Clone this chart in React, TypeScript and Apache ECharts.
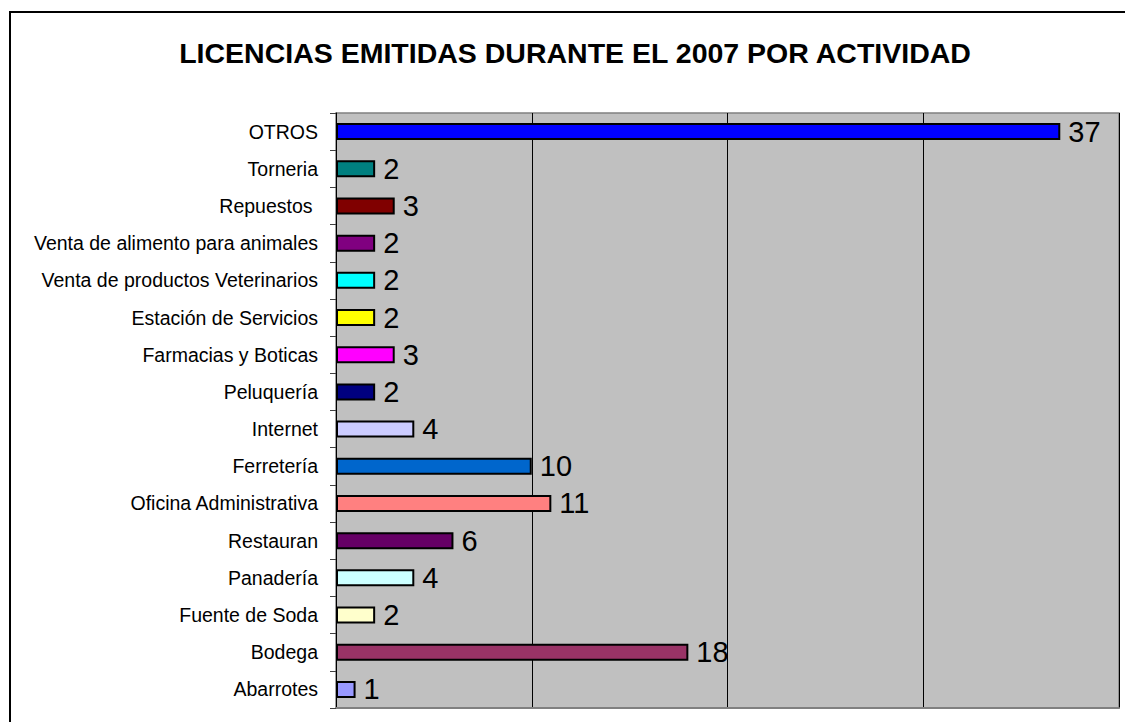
import React, { useEffect, useRef } from "react";
import * as echarts from "echarts";

const TITLE = "LICENCIAS EMITIDAS DURANTE EL 2007 POR ACTIVIDAD";

const categories = [
  "OTROS",
  "Torneria",
  "Repuestos ",
  "Venta de alimento para animales",
  "Venta de productos Veterinarios",
  "Estación de Servicios",
  "Farmacias y Boticas",
  "Peluquería",
  "Internet",
  "Ferretería",
  "Oficina Administrativa",
  "Restauran",
  "Panadería",
  "Fuente de Soda",
  "Bodega",
  "Abarrotes",
];

const values = [37, 2, 3, 2, 2, 2, 3, 2, 4, 10, 11, 6, 4, 2, 18, 1];

const barColors = [
  "#0000FF",
  "#008080",
  "#800000",
  "#800080",
  "#00FFFF",
  "#FFFF00",
  "#FF00FF",
  "#000080",
  "#CCCCFF",
  "#0066CC",
  "#FF8080",
  "#660066",
  "#CCFFFF",
  "#FFFFCC",
  "#993366",
  "#9999FF",
];

const FONT = "'Liberation Sans', Arial, Helvetica, sans-serif";

export default function App() {
  const ref = useRef<HTMLDivElement>(null);

  useEffect(() => {
    if (!ref.current) return;
    const chart = echarts.init(ref.current, null, { renderer: "svg" });
    chart.setOption({
      animation: false,
      backgroundColor: "#FFFFFF",
      graphic: [
        {
          type: "rect",
          shape: { x: 10, y: 12, width: 1140, height: 740 },
          style: { fill: "none", stroke: "#000000", lineWidth: 2 },
          z: 100,
        },
        {
          type: "text",
          x: 575,
          y: 53,
          style: {
            text: TITLE,
            font: `bold 28.5px ${FONT}`,
            fill: "#000000",
            textAlign: "center",
            textVerticalAlign: "middle",
          },
        },
      ],
      grid: {
        left: 336,
        right: 6,
        top: 113,
        bottom: 14,
        containLabel: false,
        show: true,
        backgroundColor: "#C0C0C0",
        borderColor: "#808080",
        borderWidth: 1.5,
      },
      xAxis: {
        type: "value",
        min: 0,
        max: 40,
        interval: 10,
        axisLabel: { show: false },
        axisTick: { show: false },
        axisLine: { show: true, lineStyle: { color: "#808080", width: 2 } },
        splitLine: { show: true, lineStyle: { color: "#000000", width: 1 } },
      },
      yAxis: {
        type: "category",
        inverse: true,
        data: categories,
        axisLine: { show: true, lineStyle: { color: "#000000", width: 1 } },
        axisTick: { show: true, length: 6, lineStyle: { color: "#404040" } },
        axisLabel: {
          margin: 18,
          fontSize: 19.5,
          fontFamily: FONT,
          color: "#000000",
        },
        splitLine: { show: false },
      },
      series: [
        {
          type: "bar",
          barWidth: 17,
          data: values.map((v, i) => ({
            value: v,
            itemStyle: { color: barColors[i] },
          })),
          itemStyle: { borderColor: "#000000", borderWidth: 2 },
          label: {
            show: true,
            position: "right",
            distance: 8,
            fontSize: 29,
            fontFamily: FONT,
            color: "#000000",
          },
        },
      ],
    });
    return () => chart.dispose();
  }, []);

  return (
    <div
      ref={ref}
      style={{ position: "absolute", left: 0, top: 0, width: 1125, height: 722 }}
    />
  );
}
